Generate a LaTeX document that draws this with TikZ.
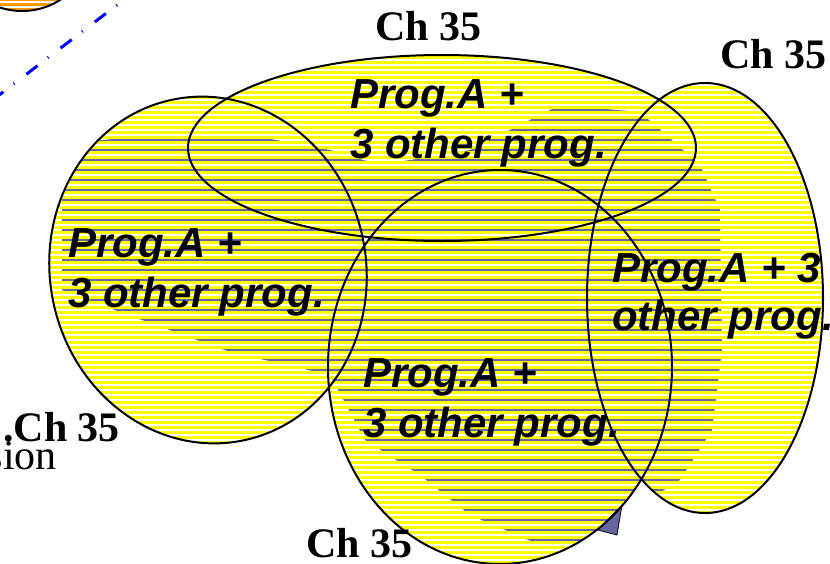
\documentclass[tikz,border=0pt]{standalone}
\usepackage{fontspec}
\setmainfont{Liberation Serif}
\setsansfont{Liberation Sans}
\usetikzlibrary{positioning}

\definecolor{zoneyellow}{RGB}{255,255,0}
\definecolor{maplines}{RGB}{102,102,170}
\definecolor{siteorange}{RGB}{255,153,0}
\definecolor{pointer}{RGB}{102,102,160}

\tikzset{
  chlabel/.style={font=\fontsize{42}{46}\selectfont\bfseries, inner sep=0pt},
  proglabel/.style={font=\fontsize{42}{46}\selectfont\sffamily\bfseries\itshape, inner sep=0pt, anchor=base west},
  zoneline/.style={draw=black, line width=2pt},
  stripe/.style={line width=1.4pt},
}

\begin{document}
\begin{tikzpicture}[x=1pt, y=-1pt]
    \useasboundingbox (0,0) rectangle (830,563);

    % site at the top left
    \fill[siteorange] (22,-60) circle [radius=71];
    \begin{scope}
      \clip (22,-60) circle [radius=71];
      \foreach \y in {-8,-3,...,12}
        \draw[white, stripe] (-60,\y) -- (100,\y);
    \end{scope}
    \draw[zoneline] (22,-60) circle [radius=71];

    % link from the site
    \coordinate (linkStart) at (117,5);
    \coordinate (linkEnd) at (-6,99);
    \draw[blue, line width=3pt, dash pattern=on 1pt off 13pt on 14pt off 15pt] (linkStart) -- (linkEnd);

    % coverage zones
    \foreach \cx/\cy/\rx/\ry/\ang in {208/270/158/174/12, 442/148/254/93/0, 705/298/118/215/0, 500/367/172/197/0}
      \fill[zoneyellow] (\cx,\cy) ellipse [x radius=\rx, y radius=\ry, rotate=\ang];

    \begin{scope}
      \clip (208,270) ellipse [x radius=158, y radius=174, rotate=12]
            (442,148) ellipse [x radius=254, y radius=93]
            (705,298) ellipse [x radius=118, y radius=215]
            (500,367) ellipse [x radius=172, y radius=197];
      \foreach \y in {50,55,...,570}
        \draw[white, stripe] (0,\y) -- (830,\y);
      % land underneath
      \clip (62,200) -- (80,142) -- (170,134) -- (260,137) -- (330,150) -- (380,165)
            -- (470,150) -- (560,105) -- (640,112) -- (700,165) -- (720,210) -- (722,350)
            -- (712,430) -- (680,480) -- (640,505) -- (600,540) -- (540,545) -- (470,515)
            -- (420,475) -- (365,440) -- (330,375) -- (230,352) -- (120,312) -- (62,290) -- cycle;
      \foreach \y in {50,60,...,570}
        \draw[maplines, stripe] (0,\y) -- (830,\y);
    \end{scope}

    \fill[pointer, draw=black, line width=0.8pt] (598,530) -- (622,505) -- (617,535) -- cycle;

    \foreach \cx/\cy/\rx/\ry/\ang in {208/270/158/174/12, 442/148/254/93/0, 705/298/118/215/0, 500/367/172/197/0}
      \draw[zoneline] (\cx,\cy) ellipse [x radius=\rx, y radius=\ry, rotate=\ang];

    % channel labels
    \node[chlabel, anchor=base west] (chTop) at (375,40) {Ch 35};
    \node[chlabel, anchor=base west] (chRight) at (720,68) {Ch 35};
    \node[chlabel, anchor=base west] (chLeft) at (3,441) {.Ch 35};
    \node[chlabel, anchor=base west] (chBottom) at (306,557) {Ch 35};
    \node[font=\fontsize{42}{44}\selectfont, inner sep=0pt, anchor=base east] (sion) at (57,469) {sion};

    % programme labels
    \node[proglabel] (progTopA) at (350,108) {Prog.A +};
    \node[proglabel] (progTopB) at ([yshift=-50pt]progTopA.base west) {3 other prog.};
    \node[proglabel] (progLeftA) at (68,257) {Prog.A +};
    \node[proglabel] (progLeftB) at ([yshift=-50pt]progLeftA.base west) {3 other prog.};
    \node[proglabel] (progMidA) at (363,387) {Prog.A +};
    \node[proglabel] (progMidB) at ([yshift=-50pt]progMidA.base west) {3 other prog.};
    \node[proglabel] (progRightA) at (612,282) {Prog.A + 3};
    \node[proglabel] (progRightB) at ([yshift=-48pt]progRightA.base west) {other prog.};
\end{tikzpicture}
\end{document}
